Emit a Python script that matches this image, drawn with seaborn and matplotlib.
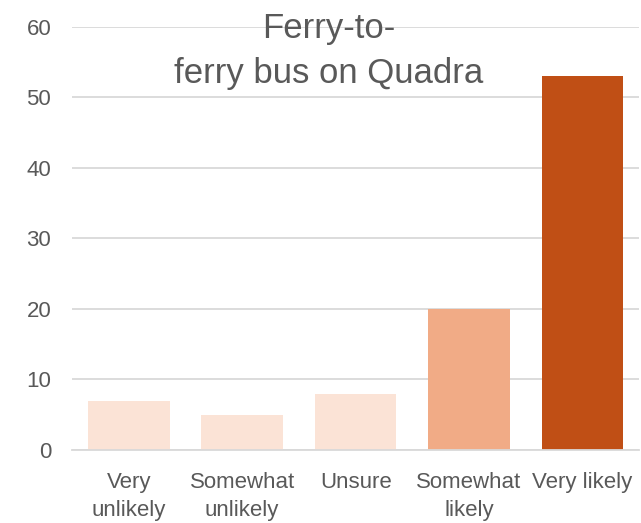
import pandas as pd
import matplotlib.pyplot as plt
import seaborn as sns

# Dados do gráfico
categories = ['Very\nunlikely', 'Somewhat\nunlikely', 'Unsure', 'Somewhat\nlikely', 'Very likely']
values = [7, 5, 8, 20, 53]
bar_colors = ['#FBE3D6', '#FBE3D6', '#FBE3D6', '#F1AB86', '#C04F15']
yticks = [0, 10, 20, 30, 40, 50, 60]

df = pd.DataFrame({'categoria': categories, 'valor': values})

sns.set_style('white')
plt.rcParams['font.family'] = ['Liberation Sans', 'DejaVu Sans']
text_color = '#595959'

fig = plt.figure(figsize=(6.41, 5.23), dpi=100)
ax = fig.add_axes([0.1123, 0.1396, 0.885, 0.8088])

sns.barplot(data=df, x='categoria', y='valor', hue='categoria',
            palette=bar_colors, legend=False, width=0.72, saturation=1,
            linewidth=0, ax=ax)

ax.set_ylim(0, 60)
ax.set_yticks(yticks)
ax.yaxis.grid(True, color='#D9D9D9', linewidth=1.3)
ax.set_axisbelow(True)
for side in ['top', 'right', 'left']:
    ax.spines[side].set_visible(False)
ax.spines['bottom'].set_color('#D9D9D9')
ax.spines['bottom'].set_linewidth(1.3)
ax.tick_params(axis='both', length=0, labelsize=16, colors=text_color)
ax.tick_params(axis='x', pad=16)
ax.tick_params(axis='y', pad=15)
for lbl in ax.get_xticklabels():
    lbl.set_verticalalignment('top')
    lbl.set_linespacing(1.42)
ax.set_xlabel('')
ax.set_ylabel('')

fig.text(0.513, 0.903, 'Ferry-to-\nferry bus on Quadra', ha='center', va='center',
         fontsize=25, color=text_color, linespacing=1.45)

plt.savefig('out.png', dpi=100)
